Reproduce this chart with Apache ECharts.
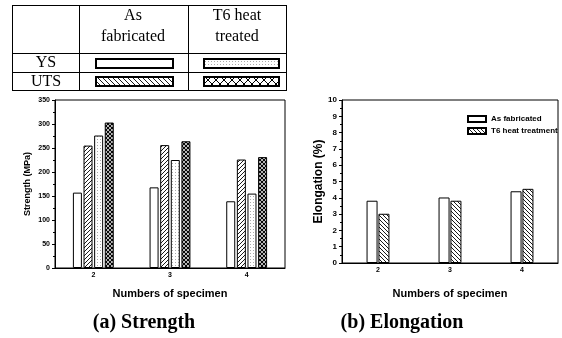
<!DOCTYPE html>
<html><head><meta charset="utf-8">
<script src="https://cdn.jsdelivr.net/npm/echarts@6/dist/echarts.min.js"></script>
<style>html,body{margin:0;padding:0;background:#fff}#c{width:562px;height:338px}</style>
</head><body><div id="c"></div>
<script>
// ---- data ----
const specimens = ['2', '3', '4'];
const ysAsFab = [157, 168, 139];
const utsAsFab = [255, 256, 226];
const ysT6 = [276, 225, 155];
const utsT6 = [303, 264, 231];
const elongAsFab = [3.82, 4.02, 4.4];
const elongT6 = [3.02, 3.82, 4.55];
const strengthTicks = [0, 50, 100, 150, 200, 250, 300, 350];
const elongTicks = [0, 1, 2, 3, 4, 5, 6, 7, 8, 9, 10];

// ---- patterns ----
function pat(type, size) {
  const c = document.createElement('canvas');
  const s = size || (type === 'dots' ? 3 : 4);
  c.width = s; c.height = s;
  const g = c.getContext('2d');
  g.fillStyle = '#fff'; g.fillRect(0, 0, s, s);
  g.strokeStyle = '#000'; g.lineWidth = 0.9;
  const fwd = () => { g.beginPath(); g.moveTo(-1, s + 1); g.lineTo(s + 1, -1); g.moveTo(-1, 1); g.lineTo(1, -1); g.moveTo(s - 1, s + 1); g.lineTo(s + 1, s - 1); g.stroke(); };
  const back = () => { g.beginPath(); g.moveTo(-1, -1); g.lineTo(s + 1, s + 1); g.moveTo(s - 1, -1); g.lineTo(s + 1, 1); g.moveTo(-1, s - 1); g.lineTo(1, s + 1); g.stroke(); };
  if (type === 'fwd') fwd();
  if (type === 'back') back();
  if (type === 'cross') { g.lineWidth = s > 5 ? 1 : 1.1; fwd(); back(); }
  if (type === 'dots') { g.fillStyle = '#aaa'; g.fillRect(1, 1, 1, 1); }
  return { image: c, repeat: 'repeat' };
}
const P = { plain: '#fff', fwd: pat('fwd'), back: pat('back'), dots: pat('dots'), cross: pat('cross'),
  backBig: pat('back', 5), crossBig: pat('cross', 8) };

const lab = { fontFamily: 'Liberation Sans', fontWeight: 'bold', fontSize: 7, color: '#000' };
const axisLine = { show: true, lineStyle: { color: '#000', width: 1 } };
function bar(name, data, color, xi, bw, gap) {
  return { type: 'bar', name, data, xAxisIndex: xi, yAxisIndex: xi, barWidth: bw, barGap: gap,
    itemStyle: { color, borderColor: '#000', borderWidth: 1 }, emphasis: { disabled: true }, animation: false };
}

const serif = 'Liberation Serif';
const tableLines = [];
function hl(x1, x2, y) { tableLines.push({ type: 'line', shape: { x1, y1: y, x2, y2: y }, style: { stroke: '#000', lineWidth: 1 } }); }
function vl(x, y1, y2) { tableLines.push({ type: 'line', shape: { x1: x, y1, x2: x, y2 }, style: { stroke: '#000', lineWidth: 1 } }); }
hl(12, 287, 5.5); hl(12, 287, 53.5); hl(12, 287, 72.5); hl(12, 287, 90.5);
vl(12.5, 5, 91); vl(79.5, 5, 91); vl(188.5, 5, 91); vl(286.5, 5, 91);
function txt(t, x, y, size, weight, family) {
  return { type: 'text', x, y, style: { text: t, fill: '#000', font: (weight || 'normal') + ' ' + size + 'px "' + (family || serif) + '"', textAlign: 'center', textVerticalAlign: 'middle' } };
}
function sw(x, y, w, h, fill) {
  return { type: 'rect', shape: { x, y, width: w, height: h }, style: { fill, stroke: '#000', lineWidth: 2 } };
}

const chart = echarts.init(document.getElementById('c'), null, { renderer: 'canvas' });
chart.setOption({
  animation: false,
  backgroundColor: '#fff',
  grid: [
    { left: 55, top: 100, width: 230, height: 168, show: true, borderColor: '#000', borderWidth: 1, backgroundColor: 'transparent' },
    { left: 342, top: 100, width: 216, height: 163, show: true, borderColor: '#000', borderWidth: 1, backgroundColor: 'transparent' }
  ],
  xAxis: [
    { type: 'category', gridIndex: 0, data: specimens, axisLine, axisTick: { alignWithLabel: true, length: 3, lineStyle: { color: '#000' } },
      axisLabel: Object.assign({ margin: 4 }, lab), name: 'Numbers of specimen', nameLocation: 'middle', nameGap: 20,
      nameTextStyle: { fontFamily: 'Liberation Sans', fontWeight: 'bold', fontSize: 11, color: '#000' } },
    { type: 'category', gridIndex: 1, data: specimens, axisLine, axisTick: { alignWithLabel: true, length: 3, lineStyle: { color: '#000' } },
      axisLabel: Object.assign({ margin: 4 }, lab), name: 'Numbers of specimen', nameLocation: 'middle', nameGap: 25,
      nameTextStyle: { fontFamily: 'Liberation Sans', fontWeight: 'bold', fontSize: 11, color: '#000' } }
  ],
  yAxis: [
    { type: 'value', gridIndex: 0, min: strengthTicks[0], max: strengthTicks[strengthTicks.length - 1], interval: 50,
      axisLine, axisTick: { show: true, length: 3, lineStyle: { color: '#000' } }, minorTick: { show: true, splitNumber: 2, length: 2, lineStyle: { color: '#000' } },
      splitLine: { show: false }, axisLabel: Object.assign({ margin: 5 }, lab),
      name: 'Strength (MPa)', nameLocation: 'middle', nameGap: 23, nameRotate: 90,
      nameTextStyle: { fontFamily: 'Liberation Sans', fontWeight: 'bold', fontSize: 9, color: '#000' } },
    { type: 'value', gridIndex: 1, min: elongTicks[0], max: elongTicks[elongTicks.length - 1], interval: 1,
      axisLine, axisTick: { show: true, length: 3, lineStyle: { color: '#000' } }, minorTick: { show: true, splitNumber: 2, length: 2, lineStyle: { color: '#000' } },
      splitLine: { show: false }, axisLabel: Object.assign({ margin: 5 }, lab, { fontSize: 8 }),
      name: 'Elongation (%)', nameLocation: 'middle', nameGap: 16, nameRotate: 90,
      nameTextStyle: { fontFamily: 'Liberation Sans', fontWeight: 'bold', fontSize: 12, color: '#000' } }
  ],
  legend: {
    show: true, data: ['As fabricated', 'T6 heat treatment'], orient: 'vertical', left: 462, top: 110,
    itemWidth: 18, itemHeight: 6, itemGap: 4, icon: 'rect',
    textStyle: { fontFamily: 'Liberation Sans', fontWeight: 'bold', fontSize: 8, color: '#000' },
    selectedMode: false
  },
  series: [
    bar('YS as fabricated', ysAsFab, P.plain, 0, 9, '18%'),
    bar('UTS as fabricated', utsAsFab, P.fwd, 0, 9, '18%'),
    bar('YS T6', ysT6, P.dots, 0, 9, '18%'),
    bar('UTS T6', utsT6, P.cross, 0, 9, '18%'),
    bar('As fabricated', elongAsFab, P.plain, 1, 11, '8%'),
    bar('T6 heat treatment', elongT6, P.back, 1, 11, '8%')
  ],
  graphic: tableLines.concat([
    txt('As', 133, 16, 16), txt('fabricated', 133, 37, 16),
    txt('T6 heat', 237, 16, 16), txt('treated', 237, 37, 16),
    txt('YS', 46, 63, 16), txt('UTS', 46, 82, 16),
    sw(96, 59, 77, 9, P.plain), sw(204, 59, 75, 9, P.dots),
    sw(96, 77, 77, 9, P.backBig), sw(204, 77, 75, 9, P.crossBig),
    txt('(a) Strength', 144, 323, 20, 'bold'),
    txt('(b) Elongation', 402, 323, 20, 'bold')
  ])
});
</script></body></html>
